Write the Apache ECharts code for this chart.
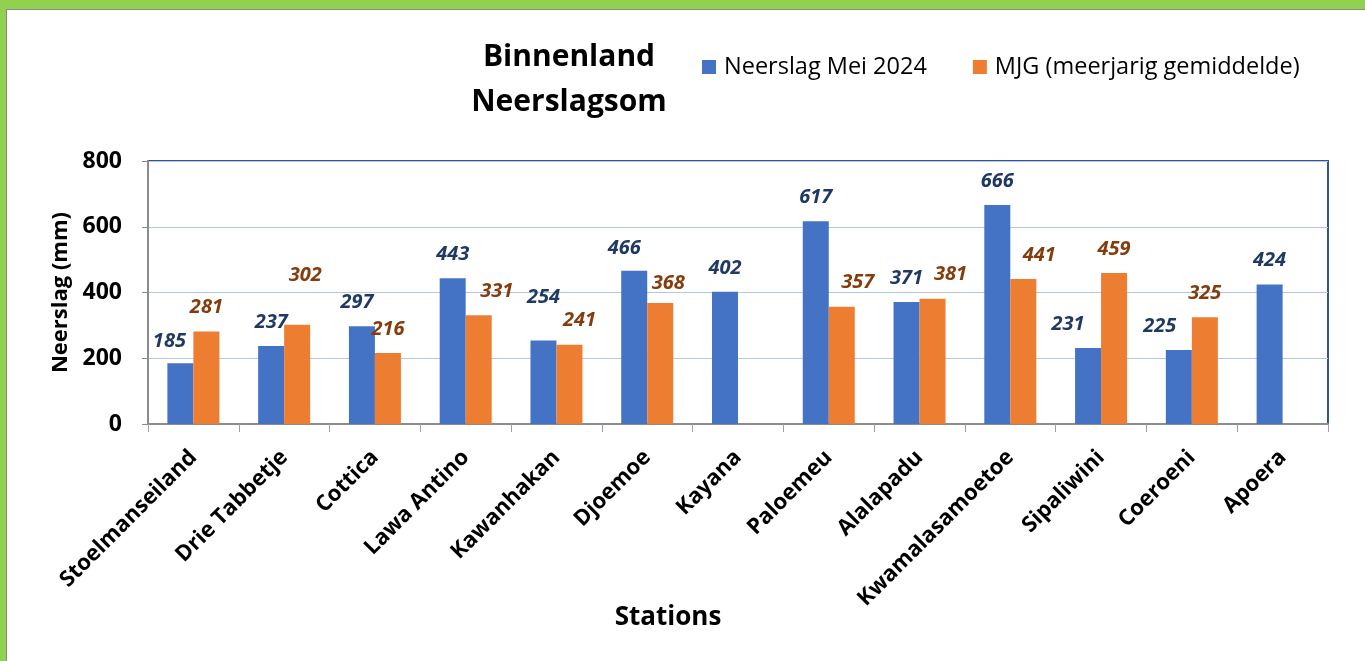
<!DOCTYPE html>
<html>
	<head>
		<meta charset="UTF-8">
		<title>Binnenland Neerslagsom</title>
		<script src="https://cdn.jsdelivr.net/npm/echarts@6/dist/echarts.min.js"></script>
		<style>
			body { margin: 0; }
			#frame { position: relative; width: 1365px; height: 661px; background: #92D050; overflow: hidden; }
			#paper { position: absolute; left: 6px; top: 9px; right: 0; bottom: 0; background: #fff; border-top: 1px solid #8a8a8a; border-left: 1px solid #8a8a8a; }
			#bar { position: absolute; left: 0; top: 0; width: 1365px; height: 661px; }
		</style>
	</head>
	<body>
		<div id="frame">
			<div id="paper"></div>
			<div id="bar"></div>
		</div>
		<script>
			var stations = ['Stoelmanseiland', 'Drie Tabbetje', 'Cottica', 'Lawa Antino', 'Kawanhakan', 'Djoemoe',
				'Kayana', 'Paloemeu', 'Alalapadu', 'Kwamalasamoetoe', 'Sipaliwini', 'Coeroeni', 'Apoera'];
			var neerslagMei = [185, 237, 297, 443, 254, 466, 402, 617, 371, 666, 231, 225, 424];
			var mjg = [281, 302, 216, 331, 241, 368, null, 357, 381, 441, 459, 325, null];
			var yTicks = [0, 200, 400, 600, 800];

			// labels that were dragged by hand in the original sheet
			var nudgeMei = { 0: [-11, 2], 2: [-5, 0], 4: [0, -19], 5: [-10, 1], 10: [-20, 0], 11: [-19, 0] };
			var nudgeMjg = { 1: [8, -25], 3: [18, 0], 4: [10, 0], 5: [8, 4], 7: [16, 0], 8: [18, 0], 9: [16, 0] };

			function withNudges(values, nudges) {
				return values.map(function(v, i) {
					if (nudges[i]) {
						return { value: v, label: { offset: nudges[i] } };
					}
					return v;
				});
			}

			var font = 'Open Sans';
			var chart = echarts.init(document.getElementById('bar'), null, { renderer: 'canvas' });

			function valueLabel(color) {
				return {
					show: true,
					position: 'top',
					distance: 14,
					fontFamily: font,
					fontSize: 20,
					fontWeight: 'bold',
					fontStyle: 'italic',
					color: color
				};
			}

			chart.setOption({
				animation: false,
				textStyle: { fontFamily: font },
				title: {
					text: 'Binnenland\nNeerslagsom',
					left: 564,
					top: 30,
					textAlign: 'center',
					textStyle: { fontFamily: font, fontSize: 30, fontWeight: 'bold', color: '#000', lineHeight: 45 }
				},
				legend: {
					left: 697,
					top: 50,
					itemWidth: 14,
					itemHeight: 14,
					itemGap: 46,
					icon: 'rect',
					textStyle: { fontFamily: font, fontSize: 23.5, color: '#000', padding: [0, 0, 0, 3] }
				},
				grid: {
					left: 148,
					right: 37,
					top: 161,
					bottom: 237,
					show: true,
					borderColor: '#2F5597',
					borderWidth: 2
				},
				xAxis: {
					type: 'category',
					data: stations,
					name: 'Stations',
					nameLocation: 'middle',
					nameGap: 181,
					nameMoveOverlap: false,
					nameTextStyle: { fontFamily: font, fontSize: 26, fontWeight: 'bold', color: '#000', padding: [0, 140, 0, 0] },
					axisLine: { lineStyle: { color: '#8c8c8c', width: 2 } },
					axisTick: { show: true, length: 8, lineStyle: { color: '#a0a0a0' } },
					axisLabel: {
						interval: 0,
						rotate: 45,
						margin: 30,
						fontFamily: font,
						fontSize: 22,
						fontWeight: 'bold',
						color: '#000'
					}
				},
				yAxis: {
					type: 'value',
					min: yTicks[0],
					max: yTicks[yTicks.length - 1],
					interval: yTicks[1] - yTicks[0],
					name: 'Neerslag (mm)',
					nameLocation: 'middle',
					nameGap: 74,
					nameTextStyle: { fontFamily: font, fontSize: 22, fontWeight: 'bold', color: '#000' },
					axisLine: { show: true, lineStyle: { color: '#8c8c8c', width: 2 } },
					axisTick: { show: true, length: 6, lineStyle: { color: '#8c8c8c' } },
					axisLabel: { margin: 26, fontFamily: font, fontSize: 23, fontWeight: 'bold', color: '#000' },
					splitLine: { lineStyle: { color: '#B4C7E7', width: 1 } }
				},
				series: [
					{
						name: 'Neerslag Mei 2024',
						type: 'bar',
						data: withNudges(neerslagMei, nudgeMei),
						barWidth: 26,
						barGap: '0%',
						itemStyle: { color: '#4472C4' },
						label: valueLabel('#1F3864')
					},
					{
						name: 'MJG (meerjarig gemiddelde)',
						type: 'bar',
						data: withNudges(mjg, nudgeMjg),
						barWidth: 26,
						barGap: '0%',
						itemStyle: { color: '#ED7D31' },
						label: valueLabel('#843C0C')
					}
				]
			});
		</script>
	</body>
</html>
